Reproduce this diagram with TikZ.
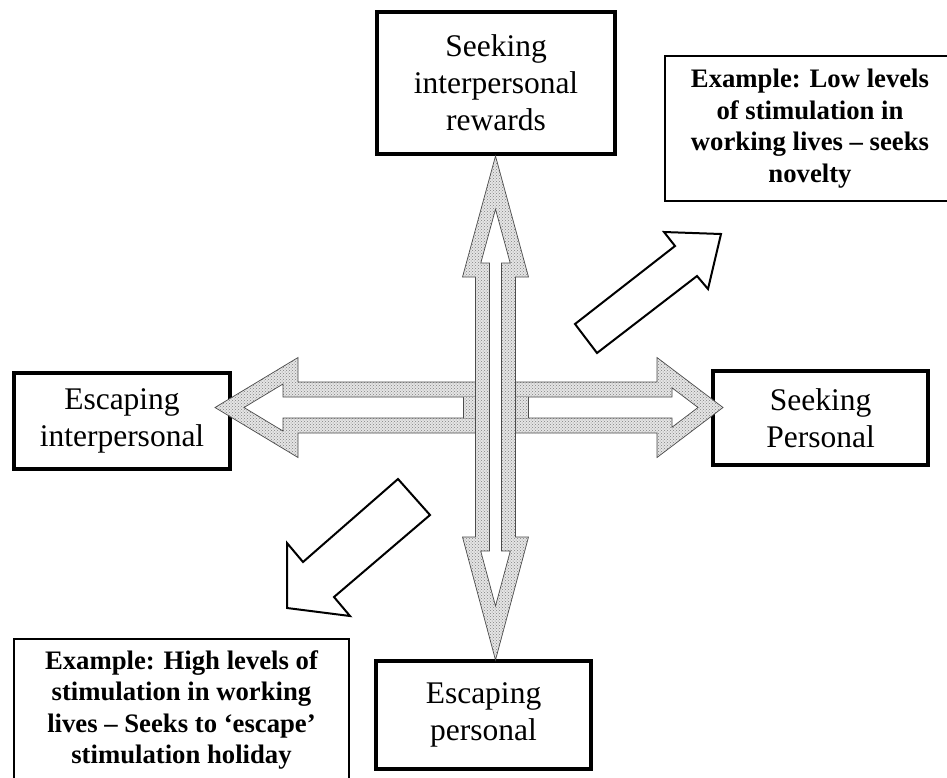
\documentclass[tikz,border=0pt]{standalone}
\usepackage{fontspec}
\setmainfont{Liberation Serif}
\usetikzlibrary{patterns}

\tikzset{
  mainbox/.style={draw=black, line width=4pt, fill=white, align=center, inner sep=0pt,
    font=\fontsize{31.5}{37}\selectfont},
  examplebox/.style={draw=black, line width=2.5pt, fill=white, align=center, inner sep=0pt,
    font=\fontsize{26.7}{31.5}\selectfont\bfseries},
  stipple/.style={even odd rule, fill=black!10,
    postaction={even odd rule, pattern=crosshatch dots, pattern color=black!50}},
  stippleedge/.style={draw=black!70, line width=0.7pt, line join=miter},
  blockarrow/.style={draw=black, line width=2pt, fill=white, line join=miter},
}

\begin{document}
\begin{tikzpicture}[x=1pt, y=-1pt]
  \useasboundingbox (0,0) rectangle (947,777);
  \fill[white] (0,0) rectangle (947,777);

  % example boxes (cut by the page edge)
  \node[examplebox, minimum width=290pt, minimum height=145pt] (exlow) at (810,128.5)
    {Example: Low levels\\of stimulation in\\working lives -- seeks\\novelty};
  \node[examplebox, minimum width=335pt, minimum height=142pt] (exhigh) at (181.5,710)
    {Example: High levels of\\stimulation in working\\lives -- Seeks to ‘escape’\\stimulation holiday};

  % the four poles
  \node[mainbox, minimum width=238pt, minimum height=142pt] (seekint) at (496,83)
    {Seeking\\interpersonal\\rewards};
  \node[mainbox, minimum width=216pt, minimum height=96pt] (escint) at (122,421)
    {Escaping\\interpersonal};
  \node[mainbox, minimum width=215pt, minimum height=94pt] (seekpers) at (820.5,418)
    {Seeking\\Personal};
  \node[mainbox, minimum width=215pt, minimum height=108pt] (escpers) at (483.5,715)
    {Escaping\\personal};

  % horizontal hollow double arrow
  \path[stipple]
    (215,407.5) -- (298,357.5) -- (298,382) -- (657,382) -- (657,357.5) -- (723,407.5)
    -- (657,457.5) -- (657,433) -- (298,433) -- (298,457.5) -- cycle
    (244,407.5) -- (283,384) -- (283,397) -- (672,397) -- (672,387.8) -- (698,407.5)
    -- (672,427.2) -- (672,418) -- (283,418) -- (283,431) -- cycle;
  \draw[stippleedge]
    (215,407.5) -- (298,357.5) -- (298,382) -- (657,382) -- (657,357.5) -- (723,407.5)
    -- (657,457.5) -- (657,433) -- (298,433) -- (298,457.5) -- cycle
    (244,407.5) -- (283,384) -- (283,397) -- (672,397) -- (672,387.8) -- (698,407.5)
    -- (672,427.2) -- (672,418) -- (283,418) -- (283,431) -- cycle;

  % shaded square where the two arrows cross
  \path[stipple] (463,397) rectangle (528,418);
  \draw[stippleedge] (463,397) -- (463,418) (528,397) -- (528,418);

  % vertical hollow double arrow
  \fill[white]
    (495.5,156) -- (528.5,277) -- (515.5,277) -- (515.5,537) -- (528.5,537) -- (495.5,660)
    -- (462.5,537) -- (475.5,537) -- (475.5,277) -- (462.5,277) -- cycle;
  \path[stipple]
    (495.5,156) -- (528.5,277) -- (515.5,277) -- (515.5,537) -- (528.5,537) -- (495.5,660)
    -- (462.5,537) -- (475.5,537) -- (475.5,277) -- (462.5,277) -- cycle
    (495.5,209.2) -- (510.2,263) -- (501.5,263) -- (501.5,551) -- (510.3,551) -- (495.5,606)
    -- (480.7,551) -- (489.5,551) -- (489.5,263) -- (480.8,263) -- cycle;
  \draw[stippleedge]
    (495.5,156) -- (528.5,277) -- (515.5,277) -- (515.5,537) -- (528.5,537) -- (495.5,660)
    -- (462.5,537) -- (475.5,537) -- (475.5,277) -- (462.5,277) -- cycle
    (495.5,209.2) -- (510.2,263) -- (501.5,263) -- (501.5,551) -- (510.3,551) -- (495.5,606)
    -- (480.7,551) -- (489.5,551) -- (489.5,263) -- (480.8,263) -- cycle;

  % diagonal block arrows
  \draw[blockarrow] (575,324) -- (675,246) -- (664,232) -- (721,234) -- (708,289)
    -- (697,276) -- (597,353) -- cycle;
  \draw[blockarrow] (398,479) -- (303,562) -- (287,543) -- (287,608) -- (350,616)
    -- (334,597) -- (430,515) -- cycle;
\end{tikzpicture}
\end{document}
